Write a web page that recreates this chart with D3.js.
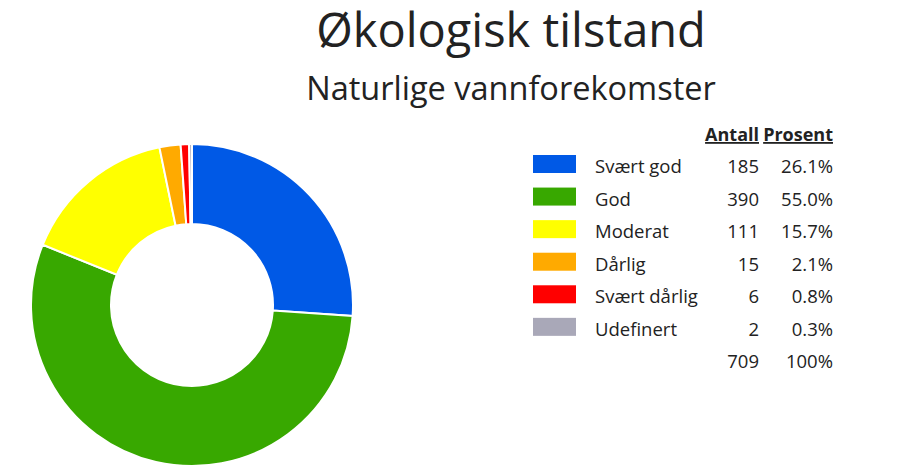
<!DOCTYPE html>
<html><head><meta charset="utf-8">
<script src="https://cdn.jsdelivr.net/npm/d3@7"></script>
<style>
html,body{margin:0;padding:0;background:#fff;}
svg{display:block;font-family:"Open Sans","Noto Sans",sans-serif;}
</style></head>
<body><svg id="c" width="911" height="472"></svg>
<script>
const title = "Økologisk tilstand";
const subtitle = "Naturlige vannforekomster";
const categories = ["Svært god","God","Moderat","Dårlig","Svært dårlig","Udefinert"];
const counts = [185,390,111,15,6,2];
const percents = ["26.1%","55.0%","15.7%","2.1%","0.8%","0.3%"];
const colors = ["#0059e6","#38a800","#ffff00","#ffaa00","#ff0000","#a9a8b8"];
const totalLabel = "709";
const totalPct = "100%";
const headers = ["Antall","Prosent"];

const svg = d3.select("#c");
const textColor = "#222";

svg.append("text").attr("x",511).attr("y",47).attr("text-anchor","middle")
  .attr("font-size",47).attr("fill",textColor).text(title);
svg.append("text").attr("x",511).attr("y",100).attr("text-anchor","middle")
  .attr("font-size",32.5).attr("fill",textColor).text(subtitle);

const data = categories.map((c,i)=>({c, v:counts[i], col:colors[i]}));
const pie = d3.pie().value(d=>d.v).sort(null);
const arc = d3.arc().innerRadius(81).outerRadius(161);
const g = svg.append("g").attr("transform","translate(192,305)");
g.selectAll("path").data(pie(data)).join("path")
  .attr("d",arc).attr("fill",d=>d.data.col)
  .attr("stroke","#fff").attr("stroke-width",2);

// legend table
const y = d3.scaleBand().domain(categories.concat(["__total"])).range([157,385]);
const lg = svg.append("g").attr("font-size",18.5).attr("fill",textColor);
const hdr = lg.append("g").attr("font-weight","bold").attr("text-decoration","underline").attr("font-size",18);
hdr.append("text").attr("x",759).attr("y",141).attr("text-anchor","end").text(headers[0]);
hdr.append("text").attr("x",833).attr("y",141).attr("text-anchor","end").text(headers[1]);

const rows = lg.selectAll("g.row").data(data).join("g").attr("class","row")
  .attr("transform",d=>`translate(0,${y(d.c)})`);
rows.append("rect").attr("x",533).attr("y",-2).attr("width",43).attr("height",18).attr("fill",d=>d.col);
rows.append("text").attr("x",595).attr("y",16).text(d=>d.c);
rows.append("text").attr("x",759).attr("y",16).attr("text-anchor","end").text(d=>d.v);
rows.append("text").attr("x",833).attr("y",16).attr("text-anchor","end").text((d,i)=>percents[i]);
const tr = lg.append("g").attr("transform",`translate(0,${y("__total")})`);
tr.append("text").attr("x",759).attr("y",16).attr("text-anchor","end").text(totalLabel);
tr.append("text").attr("x",833).attr("y",16).attr("text-anchor","end").text(totalPct);
</script></body></html>
